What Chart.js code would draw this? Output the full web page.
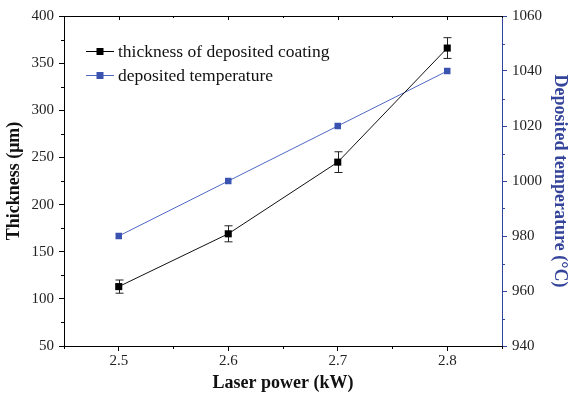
<!DOCTYPE html>
<html>
<head>
<meta charset="utf-8">
<script src="https://cdn.jsdelivr.net/npm/chart.js@4.4.1/dist/chart.umd.min.js"></script>
<style>
  html, body { margin: 0; padding: 0; background: #fff; }
  #wrap { width: 570px; height: 394px; }
</style>
</head>
<body>
<div id="wrap"><canvas id="c" width="570" height="394"></canvas></div>
<script>
// ---- data ----
const laserPower = [2.5, 2.6, 2.7, 2.8];
const thickness = [113, 169, 245, 366];
const thicknessErr = [7, 8.5, 11, 11];
const temperature = [980, 1000, 1020, 1040];
const xTicks = [2.5, 2.6, 2.7, 2.8];
const xMinorTicks = [2.45, 2.55, 2.65, 2.75, 2.85];
const yLeftTicks = [50, 100, 150, 200, 250, 300, 350, 400];
const yLeftMinor = [75, 125, 175, 225, 275, 325, 375];
const yRightTicks = [940, 960, 980, 1000, 1020, 1040, 1060];
const yRightMinor = [950, 970, 990, 1010, 1030, 1050];
const legendLabels = ['thickness of deposited coating', 'deposited temperature'];

const BLUE_TEXT = '#34449a';
const BLUE_AXIS = '#2f44a0';
const BLUE_MARK = '#3a53b0';
const BLUE_LINE = '#5068c4';
const SERIF = '"Liberation Serif", "Times New Roman", serif';

const setTicks = (arr) => (scale) => { scale.ticks = arr.map(v => ({ value: v })); };

const minorTickPlugin = {
  id: 'minorTicks',
  afterDraw(chart) {
    const { ctx, chartArea: a, scales } = chart;
    ctx.save();
    ctx.lineWidth = 1;
    ctx.strokeStyle = '#000';
    xMinorTicks.forEach(v => {
      const x = Math.round(scales.x.getPixelForValue(v)) + 0.5;
      ctx.beginPath(); ctx.moveTo(x, a.bottom); ctx.lineTo(x, a.bottom + 3); ctx.stroke();
    });
    xTicks.forEach(v => {
      const x = Math.round(scales.x.getPixelForValue(v)) + 0.5;
      ctx.beginPath(); ctx.moveTo(x, a.top); ctx.lineTo(x, a.top + 4); ctx.stroke();
    });
    xMinorTicks.forEach(v => {
      const x = Math.round(scales.x.getPixelForValue(v)) + 0.5;
      ctx.beginPath(); ctx.moveTo(x, a.top); ctx.lineTo(x, a.top + 2); ctx.stroke();
    });
    yLeftMinor.forEach(v => {
      const y = Math.round(scales.y.getPixelForValue(v)) + 0.5;
      ctx.beginPath(); ctx.moveTo(a.left, y); ctx.lineTo(a.left - 3, y); ctx.stroke();
    });
    ctx.strokeStyle = BLUE_AXIS;
    yRightMinor.forEach(v => {
      const y = Math.round(scales.y2.getPixelForValue(v)) + 0.5;
      ctx.beginPath(); ctx.moveTo(a.right, y); ctx.lineTo(a.right + 3, y); ctx.stroke();
    });
    ctx.restore();
  }
};

const errorBarPlugin = {
  id: 'errorBars',
  beforeDatasetsDraw(chart) {
    const { ctx, scales } = chart;
    ctx.save();
    ctx.strokeStyle = '#222';
    ctx.lineWidth = 1;
    laserPower.forEach((xv, i) => {
      const x = Math.round(scales.x.getPixelForValue(xv)) + 0.5;
      const yTop = scales.y.getPixelForValue(thickness[i] + thicknessErr[i]);
      const yBot = scales.y.getPixelForValue(thickness[i] - thicknessErr[i]);
      ctx.beginPath();
      ctx.moveTo(x, yTop); ctx.lineTo(x, yBot);
      ctx.moveTo(x - 4, yTop); ctx.lineTo(x + 4, yTop);
      ctx.moveTo(x - 4, yBot); ctx.lineTo(x + 4, yBot);
      ctx.stroke();
    });
    ctx.restore();
  }
};

const legendPlugin = {
  id: 'customLegend',
  afterDraw(chart) {
    const { ctx } = chart;
    const items = [
      { label: legendLabels[0], line: '#000', fill: '#000', y: 51 },
      { label: legendLabels[1], line: BLUE_LINE, fill: BLUE_MARK, y: 75 }
    ];
    ctx.save();
    items.forEach(it => {
      ctx.strokeStyle = it.line;
      ctx.lineWidth = 1;
      ctx.beginPath();
      ctx.moveTo(86, it.y + 0.5); ctx.lineTo(114, it.y + 0.5); ctx.stroke();
      ctx.fillStyle = it.fill;
      ctx.fillRect(96.5, it.y - 3, 7, 7);
      ctx.fillStyle = '#111';
      ctx.font = '17.5px ' + SERIF;
      ctx.textBaseline = 'middle';
      ctx.textAlign = 'left';
      ctx.fillText(it.label, 118, it.y + 1);
    });
    ctx.restore();
  }
};

new Chart(document.getElementById('c'), {
  type: 'line',
  data: {
    datasets: [
      {
        label: legendLabels[0],
        data: laserPower.map((x, i) => ({ x, y: thickness[i] })),
        yAxisID: 'y',
        borderColor: '#111',
        backgroundColor: '#000',
        borderWidth: 1,
        pointStyle: 'rect',
        pointRadius: 5,
        pointBorderWidth: 0,
        pointBackgroundColor: '#000',
        tension: 0
      },
      {
        label: legendLabels[1],
        data: laserPower.map((x, i) => ({ x, y: temperature[i] })),
        yAxisID: 'y2',
        borderColor: BLUE_LINE,
        backgroundColor: BLUE_MARK,
        borderWidth: 1,
        pointStyle: 'rect',
        pointRadius: 4.6,
        pointBorderWidth: 0,
        pointBackgroundColor: BLUE_MARK,
        tension: 0
      }
    ]
  },
  options: {
    responsive: false,
    animation: false,
    events: [],
    layout: { padding: 0 },
    plugins: { legend: { display: false }, tooltip: { enabled: false } },
    scales: {
      x: {
        type: 'linear', position: 'bottom', min: 2.45, max: 2.85,
        afterBuildTicks: setTicks(xTicks),
        afterFit: (s) => { s.height = 48; },
        grid: { drawOnChartArea: false, drawTicks: true, tickLength: 5, color: '#000' },
        border: { color: '#000', width: 1 },
        ticks: { padding: 1, color: '#222', font: { family: SERIF, size: 15 }, callback: (v) => Number(v).toFixed(1) },
        title: { display: true, text: 'Laser power (kW)', color: '#111', padding: { top: 0, bottom: 0 }, font: { family: SERIF, size: 18, weight: 'bold' } }
      },
      xTop: {
        type: 'linear', position: 'top', min: 2.45, max: 2.85,
        afterFit: (s) => { s.height = 16; },
        grid: { display: false },
        border: { color: '#000', width: 1 },
        ticks: { display: false }
      },
      y: {
        type: 'linear', position: 'left', min: 50, max: 400,
        afterBuildTicks: setTicks(yLeftTicks),
        afterFit: (s) => { s.width = 64; },
        grid: { drawOnChartArea: false, drawTicks: true, tickLength: 5, color: '#000' },
        border: { color: '#000', width: 1 },
        ticks: { padding: 5, color: '#222', font: { family: SERIF, size: 15 }, callback: (v) => String(v) },
        title: { display: true, text: 'Thickness (μm)', color: '#111', padding: { top: 4, bottom: 0 }, font: { family: SERIF, size: 18, weight: 'bold' } }
      },
      y2: {
        type: 'linear', position: 'right', min: 940, max: 1060,
        afterBuildTicks: setTicks(yRightTicks),
        afterFit: (s) => { s.width = 68; },
        grid: { drawOnChartArea: false, drawTicks: true, tickLength: 5, color: BLUE_AXIS },
        border: { color: BLUE_AXIS, width: 1 },
        ticks: { padding: 5, color: '#222', font: { family: SERIF, size: 15 }, callback: (v) => String(v) },
        title: { display: true, text: 'Deposited temperature (°C)', color: BLUE_TEXT, padding: { top: 0, bottom: 0 }, font: { family: SERIF, size: 18, weight: 'bold' } }
      }
    }
  },
  plugins: [errorBarPlugin, minorTickPlugin, legendPlugin]
});
</script>
</body>
</html>
